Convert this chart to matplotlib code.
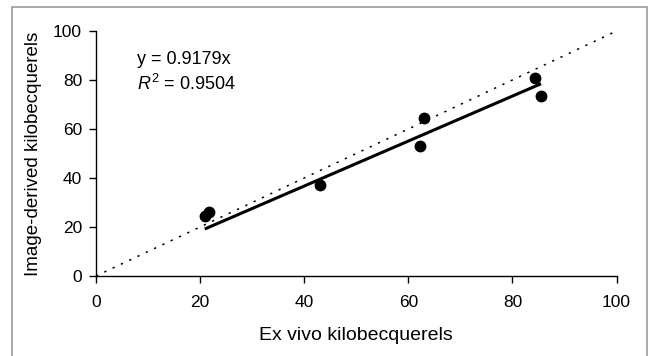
import numpy as np
import matplotlib.pyplot as plt
from matplotlib.patches import Rectangle

plt.rcParams['font.family'] = ['Liberation Sans', 'DejaVu Sans']
plt.rcParams['mathtext.fontset'] = 'custom'
plt.rcParams['mathtext.rm'] = 'Liberation Sans'
plt.rcParams['mathtext.it'] = 'Liberation Sans:italic'

ex_vivo = [20.9, 21.8, 43.0, 62.2, 63.0, 84.3, 85.5]
image_derived = [24.6, 26.0, 37.1, 52.9, 64.4, 80.8, 73.6]
slope = 0.9179
r2 = 0.9504
identity = [0, 100]

fig = plt.figure(figsize=(6.48, 3.56), dpi=100)
ax = fig.add_axes([96 / 648, 1 - 276 / 356, 520.5 / 648, 245 / 356])

# outer frame of the original figure
fig.patches.append(Rectangle((11.5 / 648, -0.05), 635.5 / 648, 1.05 - 7.3 / 356,
                             transform=fig.transFigure, fill=False,
                             edgecolor='#9a9a9a', linewidth=1.2))

# line of identity
ax.plot(identity, identity, linestyle=(0, (1.5, 4.5)), color='black', linewidth=1.1)

# fit through origin, spanning the data
xfit = np.array([min(ex_vivo), max(ex_vivo)])
ax.plot(xfit, slope * xfit, color='black', linewidth=2.2, solid_capstyle='butt')

ax.plot(ex_vivo, image_derived, 'o', color='black', markersize=7.5)

ax.text(7.8, 88.5, 'y = %.4fx' % slope, fontsize=13, va='center')
ax.text(7.8, 78.5, '$R^2$ = %.4f' % r2, fontsize=13, va='center')

ax.set_xlim(0, 100)
ax.set_ylim(0, 100)
ax.set_xticks(range(0, 101, 20))
ax.set_yticks(range(0, 101, 20))
ax.tick_params(direction='out', length=5, width=1, labelsize=12.5, pad=5)
ax.tick_params(axis='x', pad=9)
ax.spines['top'].set_visible(False)
ax.spines['right'].set_visible(False)
ax.spines['left'].set_linewidth(1)
ax.spines['bottom'].set_linewidth(1)
ax.set_xlabel('Ex vivo kilobecquerels', fontsize=14, labelpad=12)
ax.set_ylabel('Image-derived kilobecquerels', fontsize=13.5, labelpad=8)

fig.savefig('out.png', dpi=100)
